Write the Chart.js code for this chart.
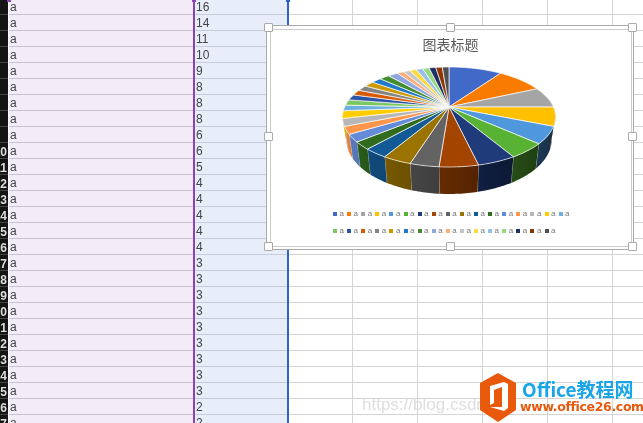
<!DOCTYPE html>
<html>
<head>
<meta charset="utf-8">
<script src="https://cdn.jsdelivr.net/npm/chart.js@4"></script>
<style>
  html, body { margin: 0; padding: 0; background: #fff; }
  #sheet { position: relative; width: 643px; height: 423px; overflow: hidden; font-family: "Liberation Sans", sans-serif; filter: blur(0.3px); }
  #sheet div { position: absolute; }
  .num { left: 0; width: 7px; height: 15px; overflow: hidden; color: #ddd; font: bold 12px/16px "Liberation Sans"; direction: rtl; white-space: nowrap; }
  .cell { font-size: 12px; line-height: 15px; color: #444; }
  .handle { width: 7px; height: 7px; background: #fff; border: 1px solid #aaa; border-radius: 1px; }
  .swatch { width: 4px; height: 4px; }
  .lab { font-size: 8px; line-height: 8px; color: #777; }
  .mark { top: 0; width: 4px; height: 2px; }
</style>
</head>
<body>
<div id="sheet">
  <div style="left:288px;top:0;width:355px;height:423px;background:
    repeating-linear-gradient(to right, transparent 0 64px, #d4d4d4 64px 65px),
    repeating-linear-gradient(to bottom, transparent 0 14px, #d4d4d4 14px 15px, transparent 15px 16px)"></div>
  <div style="left:0;top:0;width:8px;height:423px;background:#141414"></div>
  <div style="left:9px;top:0;width:184px;height:423px;background:#f3ebf8"></div>
  <div style="left:195px;top:0;width:92px;height:423px;background:#e7eef9"></div>
  <div id="rows" style="left:0;top:0;width:288px;height:423px"></div>
  <div style="left:193px;top:0;width:2px;height:423px;background:#8c44b4"></div>
  <div style="left:287px;top:0;width:2px;height:423px;background:#2f62cf"></div>
  <div class="mark" style="left:7px;background:#8c44b4"></div>
  <div class="mark" style="left:192px;background:#8c44b4"></div>
  <div class="mark" style="left:286px;background:#2f62cf"></div>

  <div style="left:266px;top:25px;width:366px;height:223px;border:1px solid #aaa;background:#fff"></div>
  <div style="left:270px;top:29px;width:360px;height:216px;border:1px solid #ccc;background:#fff"></div>
  <div style="left:270px;top:29px;width:361px;height:218px"><canvas id="pie"></canvas></div>
  <div id="legend" style="left:0;top:0"></div>
  <div id="handles" style="left:0;top:0"></div>

  <div style="left:362px;top:395px;width:125px;height:20px;overflow:hidden;color:#dedede;font-size:17px;line-height:20px;white-space:nowrap">https://blog.csdn.net</div>
  <svg style="position:absolute;left:478px;top:372px" width="40" height="51" viewBox="0 0 40 51">
    <polygon points="20,1 38,11 38,38 20,50 2,38 2,11" fill="#e8590c"/>
    <polygon points="12,14 26,10 30,12 30,36 26,39 12,35 24,35 24,15 16,18 16,31 12,33" fill="#fff"/>
  </svg>
  <div style="left:522px;top:378px;color:#1aa5e8;font:bold 19px/22px 'Noto Sans CJK SC','Open Sans';white-space:nowrap">Office教程网</div>
  <div style="left:520px;top:399px;color:#e8590c;font:bold 12.5px/15px 'DejaVu Sans';white-space:nowrap;letter-spacing:-.35px">www.office26.com</div>
</div>

<script>
const categories = ['a','a','a','a','a','a','a','a','a','a','a','a','a','a','a','a','a','a','a','a','a','a','a','a','a','a','a','a','a','a','a','a','a'];
const seriesValues = [16,14,11,10,9,8,8,8,6,6,5,4,4,4,4,4,3,3,3,3,3,3,3,3,3,2,2,2,2,2,2,2,2];
const sliceColors = [
  '#4169c8','#f97b00','#a5a5a5','#ffc000','#4f98de','#58b233','#1f3b7a','#a34400',
  '#636363','#9a7300','#125a96','#306b1e','#648bd8','#ff964b','#b7b7b7','#ffcc00',
  '#70b0e0','#7cc860','#2f55a8','#d85a00','#848484','#cc9a00','#1f78c8','#458c2e',
  '#8fa8e0','#ffac78','#c6c6c6','#ffd93d','#96c0ea','#98d880','#1c2f66','#8c3600','#505050'
];
const chartTitle = '图表标题';
const legendPerRow = 17;
const visibleRows = 27;
const firstLabelledRow = 10;

// spreadsheet rows behind the chart
const rows = document.getElementById('rows');
let html = '';
for (let i = 0; i < visibleRows; i++) {
  const y = 14 + i * 16;
  html += `<div style="left:9px;top:${y}px;width:184px;height:1px;background:#c9c2d4"></div>`;
  html += `<div style="left:195px;top:${y}px;width:92px;height:1px;background:#c8cddd"></div>`;
  html += `<div style="left:0;top:${y}px;width:8px;height:1px;background:#444"></div>`;
  html += `<div class="cell" style="left:10px;top:${y - 14}px">${categories[i]}</div>`;
  html += `<div class="cell" style="left:196px;top:${y - 14}px">${seriesValues[i]}</div>`;
  if (i + 1 >= firstLabelledRow) html += `<div class="num" style="top:${y - 14}px">${i + 1}</div>`;
}
rows.innerHTML = html;

// selection handles of the chart object
let handleHtml = '';
[[268,27],[450,27],[632,27],[268,136],[632,136],[268,246],[450,246],[632,246]].forEach(function(p) {
  handleHtml += `<div class="handle" style="left:${p[0]-4}px;top:${p[1]-4}px"></div>`;
});
document.getElementById('handles').innerHTML = handleHtml;

// legend, the library one can not have separate row and column spacing
let legendHtml = '';
categories.forEach(function(c, i) {
  const col = i < legendPerRow ? i : i - legendPerRow;
  const y = i < legendPerRow ? 212 : 229;
  const x = 333 + col * 14.1;
  legendHtml += `<div class="swatch" style="left:${x}px;top:${y}px;background:${sliceColors[i]}"></div>`;
  legendHtml += `<div class="lab" style="left:${x + 6.5}px;top:${y - 2}px">${c}</div>`;
});
document.getElementById('legend').innerHTML = legendHtml;

function shade(hex, f) {
  const n = parseInt(hex.slice(1), 16);
  const r = Math.round((n >> 16 & 255) * f), g = Math.round((n >> 8 & 255) * f), b = Math.round((n & 255) * f);
  return `rgb(${r},${g},${b})`;
}

// tilted 3d pie: the arcs keep the angles the library worked out, only the projection is ours
const tilt = { cx: 179, cy: 78, a: 104.3, b: 48, k: 0.2, depth: 21.6, shrink: 0.965 };

function top3d(angle) {
  const u = Math.cos(angle), v = Math.sin(angle), w = 1 - tilt.k * v;
  return { x: tilt.cx + tilt.a * u / w, y: tilt.cy + tilt.b * v / w };
}
function bottom3d(angle) {
  const u = Math.cos(angle), v = Math.sin(angle), w = 1 - tilt.k * v;
  return { x: tilt.cx + tilt.shrink * tilt.a * u / w, y: tilt.cy + tilt.b * v / w + tilt.depth / w };
}
function angleSteps(a0, a1) {
  const out = [];
  const n = Math.max(2, Math.ceil((a1 - a0) / 0.02));
  for (let i = 0; i <= n; i++) out.push(a0 + (a1 - a0) * i / n);
  return out;
}
function wallShade(x) {
  return 0.6 - 0.28 * (x - tilt.cx) / tilt.a;
}

const pie3d = {
  id: 'pie3d',
  beforeDatasetDraw(chart, args) {
    const ctx = chart.ctx;
    const arcs = args.meta.data;

    // walls first, the top face hides the back ones
    arcs.forEach(function(arc, i) {
      const a0 = Math.max(arc.startAngle, -0.2);
      const a1 = Math.min(arc.endAngle, Math.PI + 0.2);
      if (a1 <= a0) return;
      const steps = angleSteps(a0, a1);
      const p0 = top3d(a0), p1 = top3d(a1);
      const left = Math.min(p0.x, p1.x), right = Math.max(p0.x, p1.x);
      const grad = ctx.createLinearGradient(left, 0, right + 0.01, 0);
      grad.addColorStop(0, shade(sliceColors[i], wallShade(left)));
      grad.addColorStop(1, shade(sliceColors[i], wallShade(right)));
      ctx.beginPath();
      steps.forEach(function(t, j) {
        const p = top3d(t);
        if (j === 0) ctx.moveTo(p.x, p.y); else ctx.lineTo(p.x, p.y);
      });
      steps.slice().reverse().forEach(function(t) {
        const p = bottom3d(t);
        ctx.lineTo(p.x, p.y);
      });
      ctx.closePath();
      ctx.fillStyle = grad;
      ctx.fill();
      ctx.strokeStyle = 'rgba(235,235,235,0.55)';
      ctx.lineWidth = 0.7;
      ctx.beginPath();
      const q1 = bottom3d(a1);
      ctx.moveTo(p1.x, p1.y);
      ctx.lineTo(q1.x, q1.y);
      ctx.stroke();
    });

    // top face
    arcs.forEach(function(arc, i) {
      ctx.beginPath();
      ctx.moveTo(tilt.cx, tilt.cy);
      angleSteps(arc.startAngle, arc.endAngle).forEach(function(t) {
        const p = top3d(t);
        ctx.lineTo(p.x, p.y);
      });
      ctx.closePath();
      ctx.fillStyle = sliceColors[i];
      ctx.fill();
      ctx.strokeStyle = 'rgba(255,255,255,0.85)';
      ctx.lineWidth = 0.8;
      ctx.stroke();
    });
    return false;
  }
};

new Chart(document.getElementById('pie'), {
  type: 'pie',
  data: {
    labels: categories,
    datasets: [{ data: seriesValues, backgroundColor: sliceColors }]
  },
  options: {
    responsive: true,
    maintainAspectRatio: false,
    animation: false,
    plugins: {
      legend: { display: false },
      tooltip: { enabled: false },
      title: {
        display: true,
        text: chartTitle,
        color: '#595959',
        padding: { top: 7, bottom: 6 },
        font: { family: '"Noto Sans CJK SC"', size: 14, weight: 'normal' }
      }
    }
  },
  plugins: [pie3d]
});
</script>
</body>
</html>
